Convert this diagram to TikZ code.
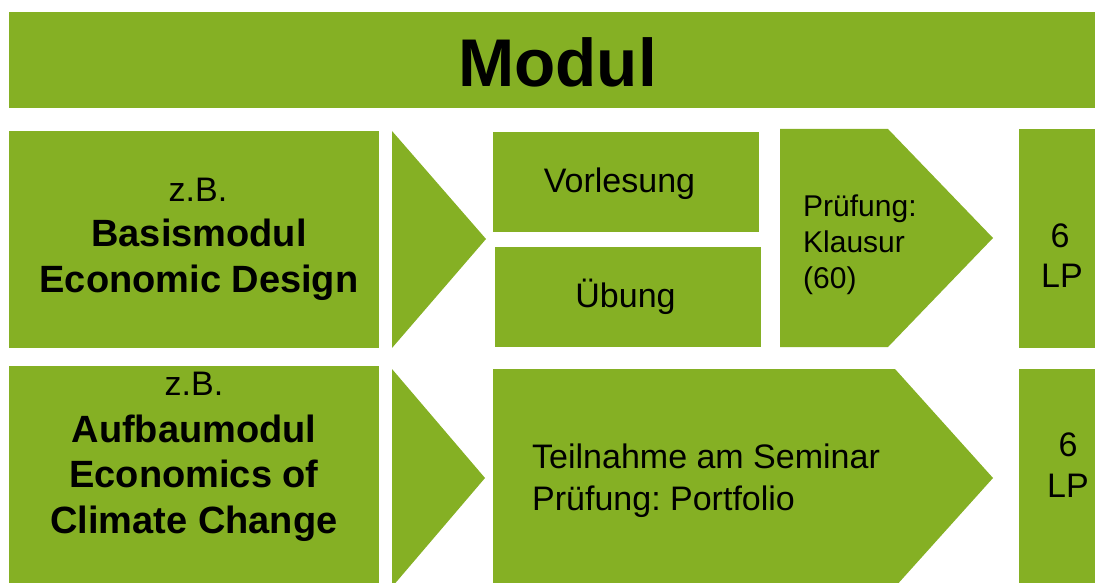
\documentclass[tikz,border=0pt]{standalone}
\usepackage{fontspec}
\setmainfont{Liberation Sans}
\frenchspacing
\definecolor{modgreen}{HTML}{85B024}
\tikzset{
  blk/.style={fill=modgreen, draw=none},
  txt/.style={anchor=base, inner sep=0pt, text=black},
  reg/.style={txt, font=\fontsize{34}{40}\selectfont},
  bld/.style={txt, font=\fontsize{38}{46}\selectfont\bfseries},
  sml/.style={txt, anchor=base west, font=\fontsize{30}{36}\selectfont},
}
\begin{document}
\begin{tikzpicture}[x=1pt,y=-1pt]
\useasboundingbox (0,0) rectangle (1095,583);
\clip (0,0) rectangle (1095,583);
% top bar
\fill[blk] (9,12) rectangle (1110,108);
\node[txt, font=\fontsize{67.5}{80}\selectfont\bfseries] (modul) at (557.5,87) {Modul};
% row 1
\fill[blk] (9,131) rectangle (379,348);
\fill[blk] (392,131) -- (486,239) -- (392,348) -- cycle;
\fill[blk] (493,132) rectangle (759,232);
\fill[blk] (495,247) rectangle (761,347);
\fill[blk] (780,129) -- (888,129) -- (993,238) -- (888,347) -- (780,347) -- cycle;
\fill[blk] (1019,129) rectangle (1110,348);
\node[reg] (zb1) at (198,201) {z.B.};
\node[bld] (bm1) at (199,246) {Basismodul};
\node[bld] (bm2) at (199,292) {Economic Design};
\node[reg] (vl) at (619.5,193) {Vorlesung};
\node[reg] (ue) at (625.5,307) {Übung};
\node[sml] (pr1) at (803,216) {Prüfung:};
\node[sml] (pr2) at (803,252) {Klausur};
\node[sml] (pr3) at (803,288) {(60)};
\node[reg] (lp1a) at (1060,247) {6};
\node[reg] (lp1b) at (1062,287) {LP};
% row 2
\fill[blk] (9,366) rectangle (379,600);
\fill[blk] (392,369) -- (485,478) -- (392,587) -- cycle;
\fill[blk] (493,369) -- (895,369) -- (993,478) -- (895,587) -- (493,587) -- cycle;
\fill[blk] (1019,369) rectangle (1110,600);
\node[reg] (zb2) at (194,395) {z.B.};
\node[bld] (am1) at (194,442) {Aufbaumodul};
\node[bld] (am2) at (194,487) {Economics of};
\node[bld] (am3) at (194,533) {Climate Change};
\node[reg, anchor=base west] (se1) at (532,468) {Teilnahme am Seminar};
\node[reg, anchor=base west] (se2) at (532,510) {Prüfung: Portfolio};
\node[reg] (lp2a) at (1068,456) {6};
\node[reg] (lp2b) at (1068,497) {LP};
\end{tikzpicture}
\end{document}
